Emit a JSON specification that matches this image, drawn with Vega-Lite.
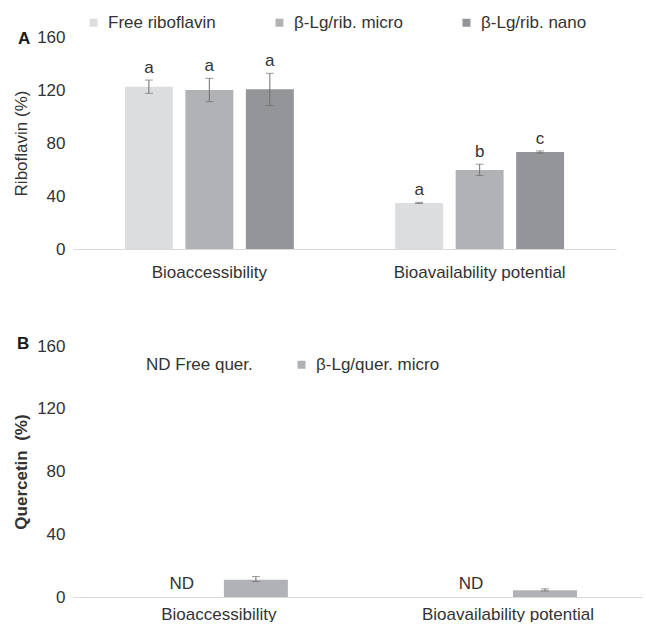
{
  "$schema": "https://vega.github.io/schema/vega-lite/v6.json",
  "padding": {"left": 12, "top": 14, "right": 0, "bottom": 0},
  "background": "white",
  "spacing": 55,
  "config": {
    "view": {"stroke": null},
    "font": "Liberation Sans",
    "axis": {"labelFont": "Liberation Sans", "labelFontSize": 17, "labelColor": "#333333", "titleFont": "Liberation Sans", "titleFontSize": 17, "titleColor": "#333333", "grid": false, "ticks": false},
    "legend": {"labelFont": "Liberation Sans", "labelFontSize": 17, "labelColor": "#333333"}
  },
  "resolve": {"scale": {"color": "independent", "x": "independent", "y": "independent", "xOffset": "independent"}, "legend": {"color": "independent"}},
  "vconcat": [
    {
      "width": 543,
      "height": 212,
      "title": {"text": "A", "anchor": "start", "frame": "group", "orient": "top", "fontWeight": "bold", "fontSize": 17, "font": "Liberation Sans", "color": "#1a1a1a", "offset": 0, "baseline": "top", "dx": -55, "dy": 34},
      "data": {"values": [
        {"phase": "Bioaccessibility", "series": "Free riboflavin", "value": 122.5, "lo": 117.5, "hi": 127.5, "sig": "a"},
        {"phase": "Bioaccessibility", "series": "β-Lg/rib. micro", "value": 120, "lo": 111.2, "hi": 128.8, "sig": "a"},
        {"phase": "Bioaccessibility", "series": "β-Lg/rib. nano", "value": 120.5, "lo": 108.2, "hi": 132.6, "sig": "a"},
        {"phase": "Bioavailability potential", "series": "Free riboflavin", "value": 34.7, "lo": 34.3, "hi": 35.2, "sig": "a"},
        {"phase": "Bioavailability potential", "series": "β-Lg/rib. micro", "value": 59.6, "lo": 55.5, "hi": 64, "sig": "b"},
        {"phase": "Bioavailability potential", "series": "β-Lg/rib. nano", "value": 73.2, "lo": 72.4, "hi": 74, "sig": "c"}
      ]},
      "encoding": {
        "x": {"field": "phase", "type": "nominal", "sort": ["Bioaccessibility", "Bioavailability potential"], "scale": {"paddingInner": 0.375, "paddingOuter": 0.192}, "axis": {"title": null, "labelAngle": 0, "domainColor": "#d9d9d9", "labelPadding": 15}},
        "xOffset": {"field": "series", "type": "nominal", "sort": ["Free riboflavin", "β-Lg/rib. micro", "β-Lg/rib. nano"], "scale": {"paddingInner": 0.207, "paddingOuter": 0}}
      },
      "layer": [
        {
          "mark": {"type": "bar"},
          "encoding": {
            "y": {"field": "value", "type": "quantitative", "title": "Riboflavin (%)", "scale": {"domain": [0, 160], "nice": false}, "axis": {"values": [0, 40, 80, 120, 160], "domain": false, "labelPadding": 8, "titlePadding": 6, "titleFontWeight": "normal"}},
            "color": {"field": "series", "type": "nominal", "scale": {"domain": ["Free riboflavin", "β-Lg/rib. micro", "β-Lg/rib. nano"], "range": ["#dcdddf", "#b1b2b5", "#939598"]},
              "legend": {"title": null, "orient": "none", "legendX": 12, "legendY": -23, "direction": "horizontal", "columns": 3, "symbolType": "square", "symbolSize": 64, "symbolStrokeWidth": 0, "labelOffset": 6, "columnPadding": 55, "gridAlign": "each"}}
          }
        },
        {
          "mark": {"type": "rule", "color": "#6f6f6f", "strokeWidth": 1},
          "encoding": {"y": {"field": "lo", "type": "quantitative", "title": "Riboflavin (%)"}, "y2": {"field": "hi"}}
        },
        {
          "mark": {"type": "tick", "color": "#6f6f6f", "size": 8, "thickness": 1},
          "encoding": {"y": {"field": "lo", "type": "quantitative", "title": "Riboflavin (%)"}}
        },
        {
          "mark": {"type": "tick", "color": "#6f6f6f", "size": 8, "thickness": 1},
          "encoding": {"y": {"field": "hi", "type": "quantitative", "title": "Riboflavin (%)"}}
        },
        {
          "mark": {"type": "text", "dy": -12, "fontSize": 17, "color": "#333333", "baseline": "middle", "font": "Liberation Sans"},
          "encoding": {"y": {"field": "hi", "type": "quantitative", "title": "Riboflavin (%)"}, "text": {"field": "sig"}}
        }
      ]
    },
    {
      "width": 570,
      "height": 251,
      "title": {"text": "B", "anchor": "start", "frame": "group", "orient": "top", "fontWeight": "bold", "fontSize": 17, "font": "Liberation Sans", "color": "#1a1a1a", "offset": 0, "baseline": "top", "dx": -56, "dy": 16},
      "data": {"values": [
        {"phase": "Bioaccessibility", "series": "ND Free quer.", "value": 0, "note": "ND"},
        {"phase": "Bioaccessibility", "series": "β-Lg/quer. micro", "value": 11, "lo": 9.8, "hi": 13},
        {"phase": "Bioavailability potential", "series": "ND Free quer.", "value": 0, "note": "ND"},
        {"phase": "Bioavailability potential", "series": "β-Lg/quer. micro", "value": 4.3, "lo": 3.8, "hi": 5.2}
      ]},
      "encoding": {
        "x": {"field": "phase", "type": "nominal", "sort": ["Bioaccessibility", "Bioavailability potential"], "scale": {"paddingInner": 0.5225, "paddingOuter": 0.247, "align": 0.538}, "axis": {"title": null, "labelAngle": 0, "domainColor": "#d9d9d9", "labelPadding": 9}},
        "xOffset": {"field": "series", "type": "nominal", "sort": ["ND Free quer.", "β-Lg/quer. micro"], "scale": {"paddingInner": 0.135, "paddingOuter": 0}}
      },
      "layer": [
        {
          "mark": {"type": "bar"},
          "encoding": {
            "y": {"field": "value", "type": "quantitative", "title": "Quercetin\u00a0 (%)", "scale": {"domain": [0, 160], "nice": false}, "axis": {"values": [0, 40, 80, 120, 160], "domain": false, "labelPadding": 8, "titlePadding": 6, "titleFontWeight": "bold"}},
            "color": {"field": "series", "type": "nominal", "scale": {"domain": ["ND Free quer.", "β-Lg/quer. micro"], "range": ["#ffffff", "#b1b2b5"]},
              "legend": {"title": null, "orient": "none", "legendX": 50, "legendY": 10, "direction": "horizontal", "columns": 2, "symbolType": "square", "symbolSize": 64, "symbolStrokeWidth": 0, "labelOffset": 6, "columnPadding": 40, "gridAlign": "each"}}
          }
        },
        {
          "transform": [{"filter": "datum.hi != null"}],
          "mark": {"type": "rule", "color": "#6f6f6f", "strokeWidth": 1},
          "encoding": {"y": {"field": "lo", "type": "quantitative", "title": "Quercetin\u00a0 (%)"}, "y2": {"field": "hi"}}
        },
        {
          "transform": [{"filter": "datum.hi != null"}],
          "mark": {"type": "tick", "color": "#6f6f6f", "size": 8, "thickness": 1},
          "encoding": {"y": {"field": "lo", "type": "quantitative", "title": "Quercetin\u00a0 (%)"}}
        },
        {
          "transform": [{"filter": "datum.hi != null"}],
          "mark": {"type": "tick", "color": "#6f6f6f", "size": 8, "thickness": 1},
          "encoding": {"y": {"field": "hi", "type": "quantitative", "title": "Quercetin\u00a0 (%)"}}
        },
        {
          "transform": [{"filter": "datum.note != null"}],
          "mark": {"type": "text", "dy": -13, "fontSize": 17, "color": "#333333", "baseline": "middle", "font": "Liberation Sans"},
          "encoding": {"y": {"field": "value", "type": "quantitative", "title": "Quercetin\u00a0 (%)"}, "text": {"field": "note"}}
        }
      ]
    }
  ]
}
